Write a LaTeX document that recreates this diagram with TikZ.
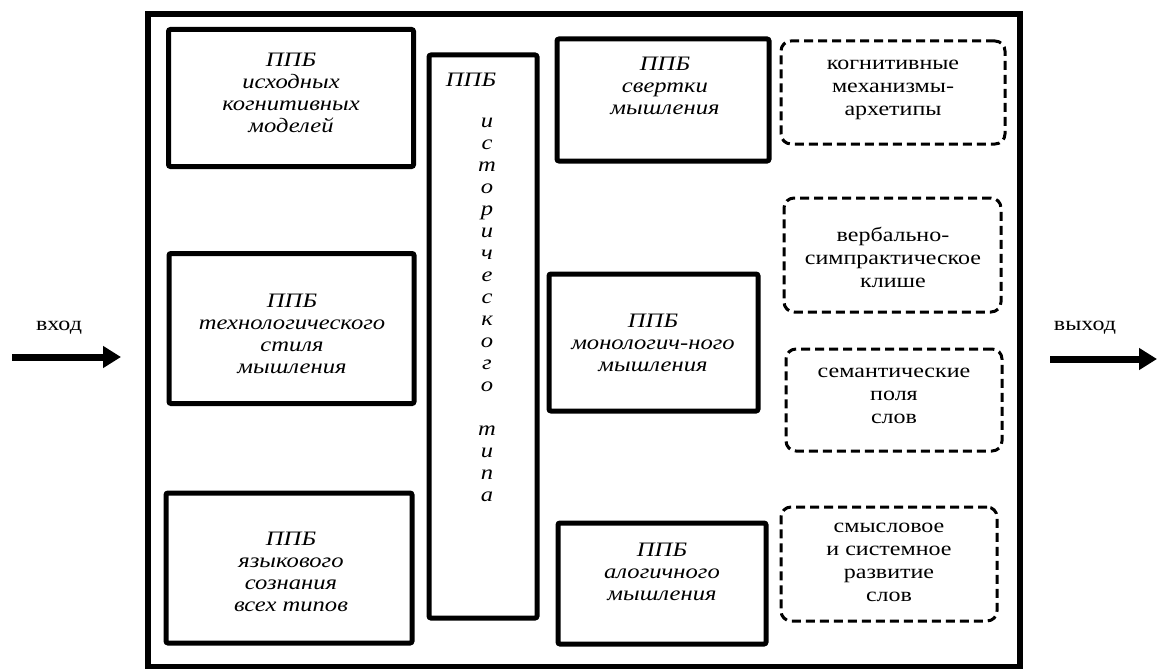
\documentclass[tikz,border=0pt]{standalone}
\usepackage{fontspec}
\setmainfont{Liberation Serif}[FakeStretch=1.2]
\usetikzlibrary{arrows.meta}
\begin{document}
\begin{tikzpicture}[x=1pt,y=-1pt,
  solidbox/.style={draw,line width=5pt,rounded corners=2pt,inner sep=0pt},
  dashbox/.style={draw,line width=3pt,dash pattern=on 9pt off 5pt,rounded corners=10pt,inner sep=0pt},
  itxt/.style={inner sep=0pt,align=center,font=\fontsize{20.5}{22}\selectfont\itshape},
  rtxt/.style={inner sep=0pt,align=center,font=\fontsize{20}{23}\selectfont},
  arr/.style={line width=7pt,-{Triangle[length=18pt,width=21pt]}}]
\useasboundingbox (0,0) rectangle (1157,669);
\node[draw,line width=6pt,minimum width=872pt,minimum height=652pt,inner sep=0pt] (outer) at (583.5,340.5) {};
% left boxes
\node[solidbox,minimum width=245pt,minimum height=137pt] (b1) at (291,98) {};
\node[itxt] (t1) at (291,93) {ППБ\\исходных\\когнитивных\\моделей};
\node[solidbox,minimum width=245pt,minimum height=150pt] (b2) at (291.5,328.5) {};
\node[itxt] (t2) at (292,334) {ППБ\\технологического\\стиля\\мышления};
\node[solidbox,minimum width=246pt,minimum height=150pt] (b3) at (289,568) {};
\node[itxt] (t3) at (291,572) {ППБ\\языкового\\сознания\\всех типов};
% column
\node[solidbox,minimum width=108pt,minimum height=563pt] (col) at (483,336.5) {};
\node[itxt] (colh) at (471,80) {ППБ};
\node[itxt,anchor=north] (colt) at (487,118) {и\\с\\т\\о\\р\\и\\ч\\е\\с\\к\\о\\г\\о\\[22pt]т\\и\\п\\а};
% middle-right boxes
\node[solidbox,minimum width=212pt,minimum height=122pt] (r1) at (663,100) {};
\node[itxt] (t4) at (665,86) {ППБ\\свертки\\мышления};
\node[solidbox,minimum width=209pt,minimum height=137pt] (r2) at (653.5,342.5) {};
\node[itxt] (t5) at (653,343) {ППБ\\монологич-ного\\мышления};
\node[solidbox,minimum width=208pt,minimum height=121pt] (r3) at (662,583.5) {};
\node[itxt] (t6) at (662,572) {ППБ\\алогичного\\мышления};
% dashed boxes
\node[dashbox,minimum width=224pt,minimum height=103pt] (d1) at (893,92.5) {};
\node[rtxt] (t7) at (893,90) {когнитивные\\механизмы-\\архетипы};
\node[dashbox,minimum width=217pt,minimum height=114pt] (d2) at (892.5,255) {};
\node[rtxt] (t8) at (893,257) {вербально-\\симпрактическое\\клише};
\node[dashbox,minimum width=216pt,minimum height=102pt] (d3) at (894,400) {};
\node[rtxt] (t9) at (894,396) {семантические\\поля\\слов};
\node[dashbox,minimum width=216pt,minimum height=114pt] (d4) at (889,564) {};
\node[rtxt] (t10) at (889,562) {смысловое\\и системное\\развитие\\слов};
% in/out
\node[rtxt] (inl) at (59,328) {вход};
\node[rtxt] (outl) at (1085,328) {выход};
\coordinate (inS) at (12,357);
\coordinate (inE) at (121,357);
\coordinate (outS) at (1050,359);
\coordinate (outE) at (1157,359);
\draw[arr] (inS) -- (inE);
\draw[arr] (outS) -- (outE);
\end{tikzpicture}
\end{document}
